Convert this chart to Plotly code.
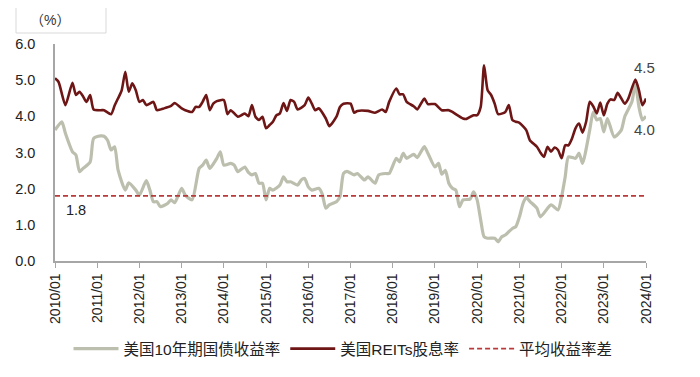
import plotly.graph_objects as go
import pandas as pd

# month index (months since 2010/01) -> value
reits_m = [0,1,3,5,6,7,8,9,10,11,13,14,16,17,18,19,20,21,22,23,24,25,26,28,29,31,33,34,36,37,39,40,41,42,43,44,45,46,48,49,50,52,53,54,55,56,57,58,59,60,61,62,63,64,65,66,67,68,69,71,72,73,74,75,77,78,80,81,82,84,85,86,89,91,93,94,95,97,98,99,100,102,103,105,106,108,110,112,113,116,117,119,120,121,122,123,124,125,126,128,129,130,131,132,134,135,137,138,139,140,141,142,143,144,145,146,147,148,149,150,151,152,153,154,155,156,157,158,159,160,162,163,165,166,167,168]
reits_v = [5.05,4.95,4.31,4.93,4.59,4.68,4.55,4.40,4.59,4.19,4.17,4.17,4.06,4.30,4.50,4.72,5.23,4.68,4.91,4.72,4.40,4.45,4.31,4.40,4.17,4.22,4.29,4.37,4.22,4.17,4.12,4.26,4.26,4.40,4.59,4.17,4.35,4.42,4.45,4.06,4.17,3.99,4.03,4.08,4.00,4.31,3.99,3.90,3.99,3.67,3.76,3.85,4.03,4.08,4.37,4.15,4.45,4.40,4.19,4.31,4.52,4.35,4.17,4.22,3.94,3.73,3.99,4.26,4.35,4.35,4.10,4.15,4.15,4.10,4.19,4.12,4.40,4.77,4.61,4.61,4.40,4.28,4.19,4.49,4.34,4.34,4.17,4.17,4.12,3.94,3.93,4.03,4.03,4.26,5.41,4.72,4.59,4.35,4.06,4.12,4.31,3.90,3.85,3.82,3.62,3.34,3.16,3.00,2.88,3.16,3.02,3.14,3.07,2.84,3.20,3.20,3.39,3.67,3.80,3.55,3.85,4.40,4.28,4.08,4.38,4.03,4.35,4.47,4.45,4.65,4.35,4.49,5.02,4.72,4.31,4.49]

ust_m = [0,2,3,5,6,7,8,10,11,13,14,15,16,17,18,20,21,23,24,26,27,28,29,30,32,33,34,36,37,39,41,42,43,44,46,47,48,50,51,52,54,55,56,57,58,59,60,61,62,64,65,66,67,69,70,71,72,73,75,76,77,78,80,81,82,83,85,86,88,89,91,92,94,95,97,98,99,100,102,103,105,106,108,109,110,111,112,113,114,115,116,118,119,120,121,122,123,125,126,127,128,129,130,131,132,133,134,135,137,138,141,143,144,145,146,148,149,150,152,153,154,155,156,157,159,161,162,164,165,166,167,168]
ust_v = [3.62,3.85,3.53,3.02,2.93,2.47,2.56,2.74,3.39,3.46,3.45,3.34,3.07,3.16,2.51,1.96,2.16,1.96,1.82,2.22,1.96,1.64,1.64,1.50,1.59,1.69,1.61,2.01,1.82,1.69,2.56,2.65,2.79,2.56,2.84,3.02,2.65,2.70,2.65,2.47,2.60,2.45,2.38,2.42,2.15,2.15,1.69,2.01,1.96,2.10,2.33,2.19,2.19,2.10,2.24,2.28,2.05,1.96,2.01,1.85,1.46,1.55,1.64,1.78,2.42,2.48,2.38,2.42,2.24,2.33,2.15,2.38,2.42,2.42,2.84,2.74,2.98,2.84,2.95,2.86,3.16,2.98,2.60,2.70,2.40,2.51,2.15,2.01,1.96,1.50,1.69,1.71,1.91,1.69,1.13,0.67,0.63,0.63,0.53,0.67,0.72,0.81,0.90,0.95,1.22,1.59,1.76,1.65,1.46,1.22,1.55,1.41,1.78,2.33,2.88,2.84,2.98,2.70,3.62,4.12,3.90,3.94,3.57,3.94,3.43,3.62,3.99,4.40,4.91,4.26,3.90,4.00]

avg_spread = 1.8
tick_labels = [f"{y}/01" for y in range(2010, 2025)]
tick_vals = [f"{y}-01-01" for y in range(2010, 2025)]
names = ["美国10年期国债收益率", "美国REITs股息率", "平均收益率差"]

base = pd.Timestamp("2010-01-01")
def to_dates(ms):
    return [(base + pd.DateOffset(months=m)).strftime("%Y-%m-%d") for m in ms]

FONT = "Arial, 'Liberation Sans', 'Noto Sans CJK SC', sans-serif"

fig = go.Figure()
fig.add_trace(go.Scatter(x=to_dates(ust_m), y=ust_v, mode="lines", name=names[0],
                         line=dict(color="#bdbfae", width=3.2, shape="spline", smoothing=0.6)))
fig.add_trace(go.Scatter(x=to_dates(reits_m), y=reits_v, mode="lines", name=names[1],
                         line=dict(color="#6e1616", width=2.6, shape="spline", smoothing=0.6)))
fig.add_trace(go.Scatter(x=[tick_vals[0], tick_vals[-1]], y=[avg_spread, avg_spread], mode="lines",
                         name=names[2], line=dict(color="#b83a3a", width=1.6, dash="5px,3px")))

# page body has an 8px default margin -> figure is 8px smaller and everything is placed in page coords
OFF = 8
W, H = 700 - OFF, 377 - OFF
PL, PR, PT, PB = 55, 646, 44, 261  # plot area in page pixels
L, R, T, B = PL - OFF, W - (PR - OFF), PT - OFF, H - (PB - OFF)
pw, ph = PR - PL, PB - PT
def px(xp): return (xp - PL) / pw
def py(yp): return (PB - yp) / ph

fig.update_layout(
    width=W, height=H,
    margin=dict(l=L, r=R, t=T, b=B, autoexpand=False),
    paper_bgcolor="white", plot_bgcolor="white",
    font=dict(family=FONT, size=14, color="#222"),
    showlegend=True,
    legend=dict(orientation="h", x=px(343), xanchor="center", y=py(349), yanchor="middle",
                font=dict(size=15.5, color="#222"), itemwidth=45, tracegroupgap=0),
    xaxis=dict(type="date", range=[tick_vals[0], tick_vals[-1]], tickvals=tick_vals, ticktext=tick_labels,
               tickangle=-90, showgrid=False, showline=True, linecolor="#a6a6a6", linewidth=1.5,
               ticks="outside", ticklen=5, tickcolor="#a6a6a6", tickfont=dict(size=14, color="#222"),
               zeroline=False, automargin=False),
    yaxis=dict(range=[0, 6], dtick=1, tickformat=".1f", showgrid=False, showline=True,
               linecolor="#a6a6a6", linewidth=1.5, ticks="", ticklabelstandoff=15,
               tickfont=dict(size=14.5, color="#222"), zeroline=False, automargin=False),
    shapes=[dict(type="rect", xref="paper", yref="paper", x0=px(16), x1=px(106), y0=py(33), y1=py(6),
                 line=dict(color="#d9d9d9", width=1), fillcolor="white", layer="above")],
    annotations=[
        dict(text="（%）", xref="paper", yref="paper", x=px(50), y=py(20), xanchor="center", yanchor="middle",
             showarrow=False, font=dict(size=14, color="#333")),
        dict(text=str(avg_spread), xref="x", yref="paper", x="2010-07-01", y=py(210), xanchor="center",
             yanchor="middle", showarrow=False, font=dict(size=14.5, color="#222")),
        dict(text=f"{reits_v[-1]:.1f}", xref="paper", yref="paper", x=px(644), y=py(68),
             xanchor="center", yanchor="middle", showarrow=False, font=dict(size=15, color="#444")),
        dict(text=f"{ust_v[-1]:.1f}", xref="paper", yref="paper", x=px(644), y=py(130),
             xanchor="center", yanchor="middle", showarrow=False, font=dict(size=15, color="#444")),
    ],
)

fig.write_html("out.html")
